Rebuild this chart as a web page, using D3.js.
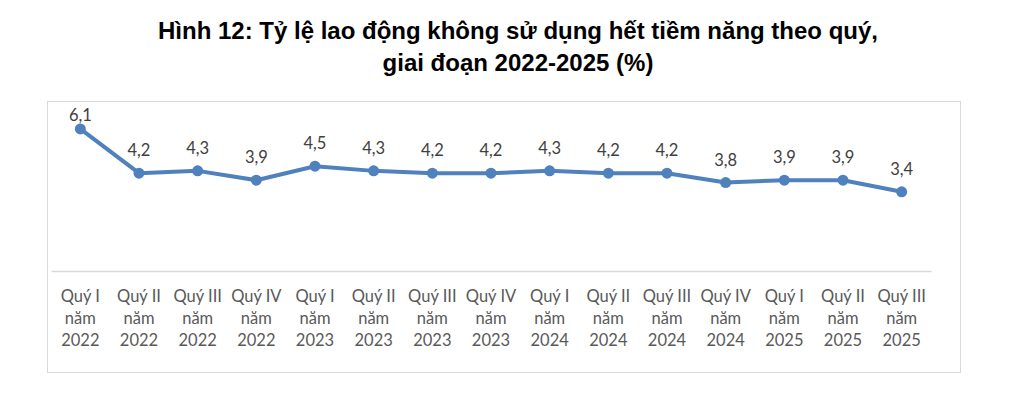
<!DOCTYPE html>
<html lang="vi">
<head>
<meta charset="utf-8">
<title>Hinh 12</title>
<script src="https://cdn.jsdelivr.net/npm/d3@7"></script>
<style>
body { margin: 0; background: #fff; }
</style>
</head>
<body>
<script>
// data
var quarters = ["Quý I", "Quý II", "Quý III", "Quý IV", "Quý I", "Quý II", "Quý III", "Quý IV",
                "Quý I", "Quý II", "Quý III", "Quý IV", "Quý I", "Quý II", "Quý III"];
var years = ["2022", "2022", "2022", "2022", "2023", "2023", "2023", "2023",
             "2024", "2024", "2024", "2024", "2025", "2025", "2025"];
var rates = [6.1, 4.2, 4.3, 3.9, 4.5, 4.3, 4.2, 4.2, 4.3, 4.2, 4.2, 3.8, 3.9, 3.9, 3.4];
var titleLines = ["Hình 12: Tỷ lệ lao động không sử dụng hết tiềm năng theo quý,",
                  "giai đoạn 2022-2025 (%)"];

var w = 1020, h = 399;

var svg = d3.select("body").append("svg")
    .attr("width", w)
    .attr("height", h);

// title
svg.selectAll("text.title")
    .data(titleLines)
    .enter()
    .append("text")
    .attr("class", "title")
    .attr("x", 518)
    .attr("y", function(d, i) { return 39 + i * 32; })
    .attr("text-anchor", "middle")
    .attr("font-family", "Liberation Sans, Arial, sans-serif")
    .attr("font-weight", "bold")
    .attr("font-size", "24px")
    .attr("fill", "#000")
    .text(function(d) { return d; });

// chart frame
svg.append("rect")
    .attr("x", 47.5)
    .attr("y", 101.5)
    .attr("width", 913)
    .attr("height", 271)
    .attr("fill", "none")
    .attr("stroke", "#d9d9d9")
    .attr("stroke-width", 1);

var keys = d3.range(rates.length);

var x = d3.scaleBand()
    .domain(keys)
    .range([51, 931]);

var y = d3.scaleLinear()
    .domain([0, 7])
    .range([271, 108]);

// category axis
var xAxis = d3.axisBottom(x).tickSize(0).tickFormat("");
var gx = svg.append("g")
    .attr("transform", "translate(0," + y(0) + ")")
    .call(xAxis);
gx.select(".domain").attr("stroke", "#d9d9d9").attr("stroke-width", 1.5);

var labelFont = "Lato, 'Open Sans', sans-serif";
var cx = function(d) { return x(d) + x.bandwidth() / 2; };

var tickLabels = svg.append("g").selectAll("text")
    .data(keys)
    .enter()
    .append("text")
    .attr("x", cx)
    .attr("y", 302)
    .attr("text-anchor", "middle")
    .attr("font-family", labelFont)
    .attr("font-size", "16.5px")
    .attr("fill", "#595959");

tickLabels.append("tspan")
    .attr("x", cx)
    .attr("dy", 0)
    .text(function(d) { return quarters[d]; });
tickLabels.append("tspan")
    .attr("x", cx)
    .attr("dy", 22)
    .text("năm");
tickLabels.append("tspan")
    .attr("x", cx)
    .attr("dy", 22)
    .text(function(d) { return years[d]; });

// line
var line = d3.line()
    .x(cx)
    .y(function(d) { return y(rates[d]); });

svg.append("path")
    .datum(keys)
    .attr("d", line)
    .attr("fill", "none")
    .attr("stroke", "#4f81bd")
    .attr("stroke-width", 4)
    .attr("stroke-linejoin", "round");

svg.append("g").selectAll("circle")
    .data(keys)
    .enter()
    .append("circle")
    .attr("cx", cx)
    .attr("cy", function(d) { return y(rates[d]); })
    .attr("r", 5.5)
    .attr("fill", "#4f81bd");

// data labels (kept inside the plot area at the top)
svg.append("g").selectAll("text")
    .data(keys)
    .enter()
    .append("text")
    .attr("x", cx)
    .attr("y", function(d) { return Math.max(y(rates[d]) - 17, y(7) + 13); })
    .attr("text-anchor", "middle")
    .attr("font-family", labelFont)
    .attr("font-size", "16.5px")
    .attr("fill", "#404040")
    .text(function(d) { return String(rates[d]).replace(".", ","); });
</script>
</body>
</html>
